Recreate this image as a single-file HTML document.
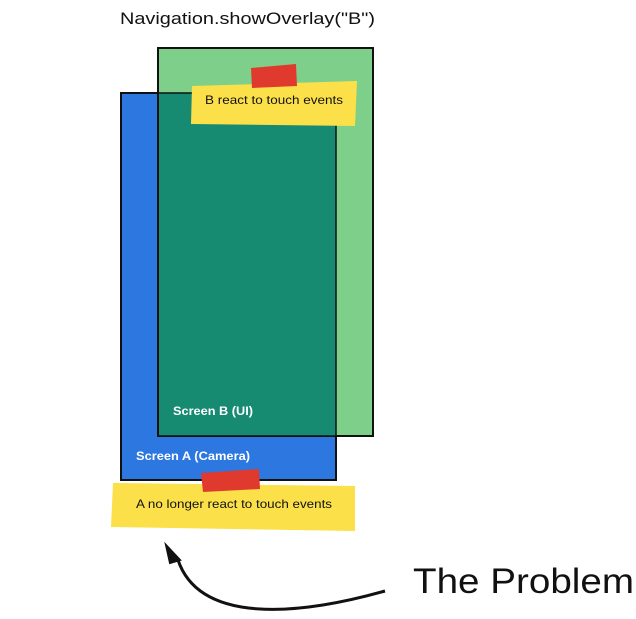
<!DOCTYPE html>
<html><head><style>
body{margin:0;width:636px;height:619px;background:#fff;overflow:hidden;font-family:"Liberation Sans",sans-serif}
</style></head><body>
<svg width="636" height="619" xmlns="http://www.w3.org/2000/svg" style="position:absolute;left:0;top:0">
<text x="120" y="24" font-size="17" fill="#111" font-family="Liberation Sans" textLength="255" lengthAdjust="spacingAndGlyphs">Navigation.showOverlay("B")</text>
<rect x="121" y="93" width="215" height="387" fill="#2d77e0" stroke="#111" stroke-width="2"/>
<rect x="158" y="48" width="215" height="388" fill="#7ecf8a" stroke="#111" stroke-width="2"/>
<rect x="158" y="93" width="178" height="343" fill="#178a72" stroke="#111" stroke-width="1.5"/>
<line x1="158" y1="93" x2="158" y2="436" stroke="#111" stroke-width="2"/>
<text x="173" y="415" font-size="12" fill="#fff" font-weight="bold" textLength="80" lengthAdjust="spacingAndGlyphs">Screen B (UI)</text>
<text x="136" y="460" font-size="12" fill="#fff" font-weight="bold" textLength="114" lengthAdjust="spacingAndGlyphs">Screen A (Camera)</text>
<polygon points="192,86 357,81 355,126 191,124" fill="#fbe04a"/>
<polygon points="251,68 296,64 297,86 252,88" fill="#e03a2e"/>
<text x="205" y="104" font-size="12" fill="#111" textLength="138" lengthAdjust="spacingAndGlyphs">B react to touch events</text>
<polygon points="113,483 355,486 355,531 111,527" fill="#fbe04a"/>
<polygon points="201,473 259,469 260,489 203,492" fill="#e03a2e"/>
<text x="136" y="508" font-size="12" fill="#111" textLength="196" lengthAdjust="spacingAndGlyphs">A no longer react to touch events</text>
<path d="M385,591 C300,615 200,625 178,560" fill="none" stroke="#111" stroke-width="3"/>
<polygon points="166,545 180,560 170,563" fill="#111" stroke="#111" stroke-width="2"/>
<text x="413" y="593" font-size="35" fill="#111" textLength="221" lengthAdjust="spacingAndGlyphs">The Problem</text>
</svg>
</body></html>
